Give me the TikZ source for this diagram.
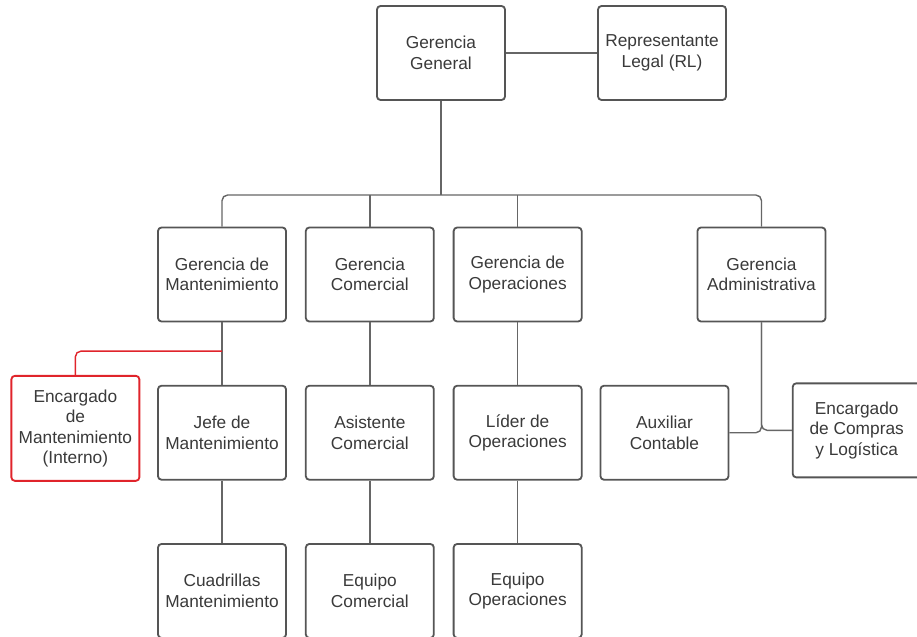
\documentclass[tikz,border=0pt]{standalone}
\usepackage{fontspec}
\setmainfont{Liberation Sans}
\usetikzlibrary{positioning, calc}
\definecolor{boxline}{HTML}{555555}
\definecolor{linkline}{HTML}{666666}
\definecolor{textgray}{HTML}{3A3A3A}
\definecolor{redline}{HTML}{E0242B}

\begin{document}
\begin{tikzpicture}[%
    every node/.style={%
      font=\fontsize{12.3}{14.6}\selectfont,
      text=textgray,
      text centered,
      align=center
    },
    box/.style={draw=boxline, line width=1.3pt, rounded corners=2.5pt,
      fill=white, minimum width=3.2cm, minimum height=2.35cm, inner sep=0pt},
    redbox/.style={box, draw=redline, minimum height=2.625cm},
    link/.style={draw=linkline, line width=1pt, rounded corners=4pt},
    redlink/.style={link, draw=redline}
  ]

  \clip (0,0) rectangle (22.925,-15.9);
  \useasboundingbox (0,0) rectangle (22.925,-15.9);

  % Top level
  \node[box] (gg) at (11.025,-1.325) {Gerencia\\General};
  \node[box, right=2.28cm of gg] (rl) {Representante\\Legal (RL)};

  % Gerencias
  \node[box] (gm) at (5.55,-6.8625) {Gerencia de\\Mantenimiento};
  \node[box, right=0.45cm of gm] (gc) {Gerencia\\Comercial};
  \node[box, right=0.45cm of gc] (go) {Gerencia de\\Operaciones};
  \node[box, right=2.85cm of go] (ga) {Gerencia\\Administrativa};

  % Third level
  \node[box, below=1.56cm of gm] (jefe) {Jefe de\\Mantenimiento};
  \node[redbox, left=0.42cm of jefe, yshift=0.11cm] (enc)
    {Encargado\\de\\Mantenimiento\\(Interno)};
  \node[box, below=1.56cm of gc] (asist) {Asistente\\Comercial};
  \node[box, below=1.56cm of go] (lider) {Líder de\\Operaciones};
  \node[box, below=1.56cm of ga, xshift=-2.425cm] (aux) {Auxiliar\\Contable};
  \node[box, right=1.56cm of aux, yshift=0.06cm] (compras)
    {Encargado\\de Compras\\y Logística};

  % Bottom level
  \node[box, below=1.56cm of jefe] (cuad) {Cuadrillas\\Mantenimiento};
  \node[box, below=1.56cm of asist] (eqc) {Equipo\\Comercial};
  \node[box, below=1.56cm of lider] (eqo) {Equipo\\Operaciones};

  % Connectors
  \coordinate (bus) at (11.025,-4.875);
  \coordinate (split) at ($(gm.south)!0.46!(jefe.north)$);
  \draw[link] (gg.east) -- (rl.west);
  \draw[link] (gg.south) -- (bus);
  \draw[link] (gm.north) |- (bus) -| (ga.north);
  \draw[link] (gc.north) -- (gc.north |- bus);
  \draw[link] (go.north) -- (go.north |- bus);
  \draw[link] (gm.south) -- (jefe.north);
  \draw[redlink] (split) -| (enc.north);
  \draw[link] (gc.south) -- (asist.north);
  \draw[link] (go.south) -- (lider.north);
  \draw[link] (ga.south) |- (aux.east);
  \draw[link] (ga.south) |- (compras.west);
  \draw[link] (jefe.south) -- (cuad.north);
  \draw[link] (asist.south) -- (eqc.north);
  \draw[link] (lider.south) -- (eqo.north);

\end{tikzpicture}
\end{document}
